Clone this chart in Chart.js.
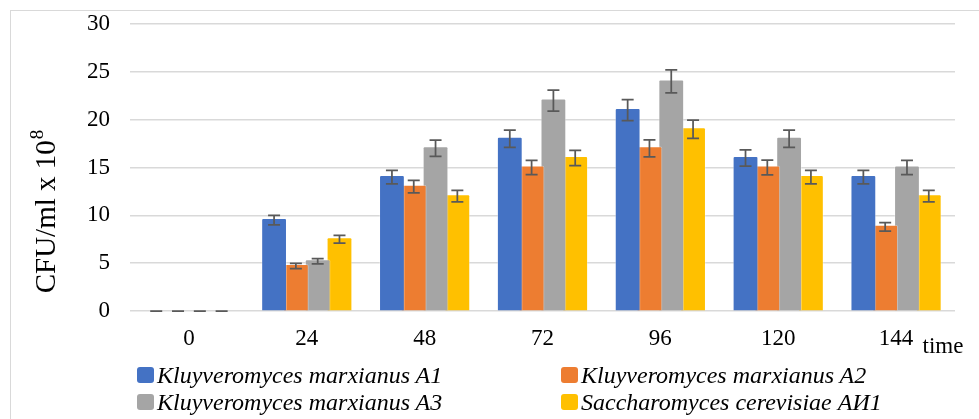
<!DOCTYPE html>
<html>
<head>
<meta charset="utf-8">
<script src="https://cdn.jsdelivr.net/npm/chart.js@4"></script>
<style>
  body { margin: 0; background: #fff; overflow: hidden; }
  #frame { position: absolute; left: 10px; top: 10px; width: 1100px; height: 600px; border: 1px solid #d9d9d9; }
  #wrap { position: absolute; left: 0; top: 0; width: 979px; height: 419px; }
  .lg { position: absolute; font-family: 'Liberation Serif', 'Times New Roman', serif; font-style: italic; font-size: 24px; line-height: 24px; color: #000; white-space: nowrap; }
  .lg span { position: absolute; width: 17px; height: 16px; border-radius: 3px; }
</style>
</head>
<body>
<div id="frame"></div>
<div id="wrap"><canvas id="chart" width="979" height="419"></canvas></div>
<div id="legend"></div>
<script>
// Zeitpunkte (h) und Mittelwerte CFU/ml x 10^8
var times = ['0', '24', '48', '72', '96', '120', '144'];
var names = ['Kluyveromyces marxianus A1', 'Kluyveromyces marxianus A2', 'Kluyveromyces marxianus A3', 'Saccharomyces cerevisiae АИ1'];
var colors = ['#4472C4', '#ED7D31', '#A5A5A5', '#FFC000'];

var kmA1 = [0, 9.5, 14, 18, 21, 16, 14];
var kmA2 = [0, 4.7, 13, 15, 17, 15, 8.8];
var kmA3 = [0, 5.2, 17, 22, 24, 18, 15];
var scAI1 = [0, 7.5, 12, 16, 19, 14, 12];

// Fehlerbalken (+/-)
var errA1 = [0, 0.5, 0.7, 0.9, 1.1, 0.85, 0.7];
var errA2 = [0, 0.28, 0.65, 0.75, 0.9, 0.77, 0.45];
var errA3 = [0, 0.28, 0.85, 1.1, 1.2, 0.9, 0.75];
var errSC = [0, 0.4, 0.6, 0.8, 0.95, 0.7, 0.6];

var values = [kmA1, kmA2, kmA3, scAI1];
var errors = [errA1, errA2, errA3, errSC];

var serif = "'Liberation Serif', 'Times New Roman', serif";

// Fehlerbalken zeichnen
var errorBars = {
    id: 'errorBars',
    afterDatasetsDraw: (chart) => {
        var ctx = chart.ctx;
        var y = chart.scales.y;
        ctx.save();
        ctx.strokeStyle = '#595959';
        ctx.lineWidth = 1.75;
        chart.data.datasets.forEach((ds, i) => {
            var meta = chart.getDatasetMeta(i);
            meta.data.forEach((bar, j) => {
                var v = ds.data[j];
                var e = ds.errors[j];
                var top = y.getPixelForValue(v + e);
                var bot = y.getPixelForValue(v - e);
                ctx.beginPath();
                ctx.moveTo(bar.x, top); ctx.lineTo(bar.x, bot);
                ctx.moveTo(bar.x - 6, top); ctx.lineTo(bar.x + 6, top);
                ctx.moveTo(bar.x - 6, bot); ctx.lineTo(bar.x + 6, bot);
                ctx.stroke();
            });
        });
        ctx.restore();
    }
};

// Achsentitel (mit Hochzahl) und "time"
var axisTexts = {
    id: 'axisTexts',
    afterDraw: (chart) => {
        var ctx = chart.ctx;
        var area = chart.chartArea;
        ctx.save();
        ctx.fillStyle = '#000';
        ctx.textBaseline = 'alphabetic';
        ctx.font = '29px ' + serif;
        var main = 'CFU/ml x 10';
        var w1 = ctx.measureText(main).width;
        ctx.font = '19px ' + serif;
        var w2 = ctx.measureText('8').width;
        ctx.translate(55, 212);
        ctx.rotate(-Math.PI / 2);
        var x0 = -(w1 + w2) / 2;
        ctx.font = '29px ' + serif;
        ctx.fillText(main, x0, 0);
        ctx.font = '19px ' + serif;
        ctx.fillText('8', x0 + w1 + 1, -12);
        ctx.restore();

        ctx.save();
        ctx.fillStyle = '#000';
        ctx.font = '23px ' + serif;
        ctx.textAlign = 'center';
        ctx.fillText('time', area.right - 12, 353);
        ctx.restore();
    }
};

var createBarChart = (canvasId) => {
    var context = document.getElementById(canvasId).getContext('2d');
    var data = {
        labels: times,
        datasets: values.map((vals, i) => ({
            label: names[i],
            data: vals,
            errors: errors[i],
            backgroundColor: colors[i],
            borderColor: 'rgba(255,255,255,0.3)',
            borderWidth: 1,
            borderRadius: 2,
            inflateAmount: 2,
            barPercentage: 1,
            categoryPercentage: 0.74
        }))
    };
    var config = {
        type: 'bar',
        data: data,
        options: {
            responsive: false,
            animation: false,
            layout: { padding: { left: 0, right: 24, top: 24, bottom: 68 } },
            plugins: { legend: { display: false }, tooltip: { enabled: false } },
            scales: {
                x: {
                    grid: { display: false },
                    border: { display: false },
                    ticks: { color: '#000', font: { family: serif, size: 23 }, padding: 6 },
                    afterFit: (s) => { s.height = 40; }
                },
                y: {
                    min: 0, max: 30,
                    ticks: { stepSize: 5, color: '#000', font: { family: serif, size: 23 }, padding: 5 },
                    grid: { color: '#d9d9d9', lineWidth: 1.6, drawTicks: true, tickLength: 15, tickColor: 'rgba(0,0,0,0)' },
                    border: { display: false },
                    afterFit: (s) => { s.width = 130; }
                }
            }
        },
        plugins: [errorBars, axisTexts]
    };
    return new Chart(context, config);
};

createBarChart('chart');

// Legende in zwei Spalten
var legendPos = [[137, 363], [561, 363], [137, 390], [561, 390]];
var legend = document.getElementById('legend');
names.forEach((n, i) => {
    var d = document.createElement('div');
    d.className = 'lg';
    d.style.left = (legendPos[i][0] + 20) + 'px';
    d.style.top = legendPos[i][1] + 'px';
    var box = document.createElement('span');
    box.style.background = colors[i];
    box.style.left = '-20px';
    box.style.top = '4px';
    d.appendChild(box);
    d.appendChild(document.createTextNode(n));
    legend.appendChild(d);
});
</script>
</body>
</html>
